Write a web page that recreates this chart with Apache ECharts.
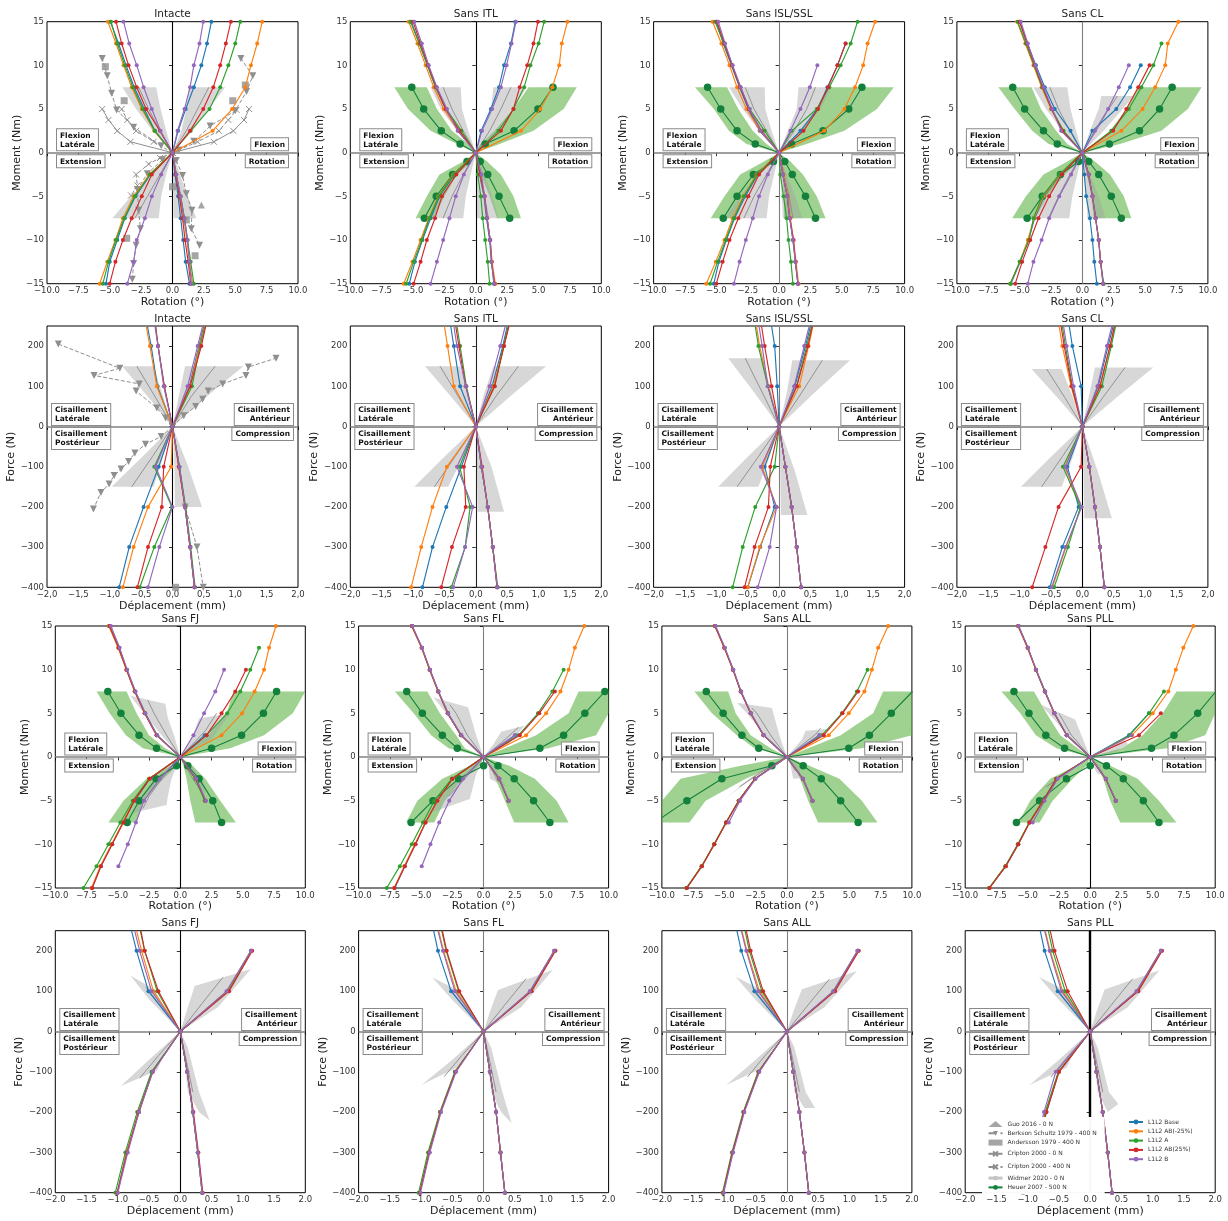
<!DOCTYPE html>
<html>
<head>
<meta charset="utf-8">
<script src="https://cdn.jsdelivr.net/npm/echarts@6/dist/echarts.min.js"></script>
<style>
  html, body { margin: 0; padding: 0; background: #fff; }
  #chart { width: 1228px; height: 1221px; }
</style>
</head>
<body>
<div id="chart"></div>
<script>
// ---- levels (y values) shared by the curves ----
const MOM_UP = [0, 2.5, 5, 7.5, 10, 12.5, 15];
const MOM_DN = [0, -2.5, -5, -7.5, -10, -12.5, -15];
const F_UP = [0, 100, 200, 250];
const F_DN = [0, -100, -200, -300, -400];
const H_UP = [0, 1, 2.5, 5, 7.5];
const H_DN = [0, -1, -2.5, -5, -7.5];

const MODEL_NAMES = ["L1L2 Base", "L1L2 AB(-25%)", "L1L2 A", "L1L2 AB(25%)", "L1L2 B"];
const MODEL_COLORS = ["#1f77b4", "#ff7f0e", "#2ca02c", "#d62728", "#9467bd"];

const titles = ["Intacte", "Sans ITL", "Sans ISL/SSL", "Sans CL",
                "Intacte", "Sans ITL", "Sans ISL/SSL", "Sans CL",
                "Sans FJ", "Sans FL", "Sans ALL", "Sans PLL",
                "Sans FJ", "Sans FL", "Sans ALL", "Sans PLL"];

// ---- model curves: [latérale, flexion/antérieur, extension/postérieur, rotation/compression] x 5 models ----
const mIntacte = [
  [[0,-1.4,-2.25,-3.05,-3.7,-4.3,-4.95],[0,-1.45,-2.45,-3.25,-3.9,-4.5,-5.15],[0,-1.42,-2.37,-3.15,-3.8,-4.4,-4.9],[0,-1.0,-2.1,-2.85,-3.5,-4.05,-4.5],[0,-0.95,-1.65,-2.3,-2.85,-3.45,-3.9]],
  [[0,0.45,1.05,1.7,2.3,2.75,3.1],[0,3.2,4.75,5.8,6.25,6.75,7.15],[0,1.45,2.95,3.8,4.45,5.0,5.4],[0,1.4,2.45,3.25,3.8,4.25,4.65],[0,0.4,0.95,1.4,1.7,2.15,2.45]],
  [[0,-1.75,-2.95,-3.8,-4.4,-5.0,-5.3],[0,-1.85,-3.1,-3.95,-4.55,-5.2,-5.8],[0,-1.8,-3.0,-3.85,-4.5,-5.1,-5.55],[0,-1.65,-2.45,-3.25,-3.95,-4.55,-5.0],[0,-0.9,-1.65,-2.2,-2.85,-3.1,-3.6]],
  [[0,0.2,0.45,0.65,0.85,1.05,1.35],[0,0.3,0.6,0.9,1.15,1.35,1.6],[0,0.3,0.65,0.95,1.2,1.45,1.7],[0,0.25,0.55,0.8,1.0,1.25,1.45],[0,0.3,0.65,0.95,1.2,1.35,1.5]]
];
const mITL = [
  [[0,-1.35,-2.4,-3.2,-3.85,-4.5,-5.15],[0,-1.4,-2.55,-3.35,-4.0,-4.65,-5.35],[0,-1.15,-2.35,-3.2,-3.85,-4.5,-5.2],[0,-1.3,-2.4,-3.15,-3.8,-4.4,-5.0],[0,-1.45,-2.3,-3.1,-3.75,-4.3,-4.9]],
  [[0,0.42,1.2,1.85,2.25,2.8,3.15],[0,3.6,5.15,6.1,6.65,6.85,7.3],[0,1.8,3.0,3.85,4.35,5.0,5.45],[0,2.0,3.0,3.5,4.1,4.6,4.95],[0,0.5,1.3,2.0,2.45,2.85,3.2]],
  [[0,-1.7,-2.9,-3.6,-4.25,-4.85,-5.3],[0,-1.8,-3.0,-3.75,-4.4,-5.05,-5.75],[0,-1.75,-2.95,-3.7,-4.3,-4.95,-5.55],[0,-1.55,-2.7,-3.25,-3.9,-4.4,-4.95],[0,-0.95,-1.6,-2.1,-2.6,-3.1,-3.6]],
  [[0,0.3,0.65,0.85,1.1,1.25,1.45],[0,0.35,0.7,0.9,1.15,1.3,1.55],[0,0.15,0.4,0.55,0.75,0.95,1.1],[0,0.35,0.7,0.9,1.15,1.25,1.5],[0,0.45,0.7,0.9,1.15,1.25,1.45]]
];
const mISL = [
  [[0,-1.55,-2.45,-3.15,-3.8,-4.45,-5.0],[0,-1.5,-2.6,-3.35,-3.95,-4.6,-5.3],[0,-1.15,-2.35,-3.1,-3.75,-4.4,-5.1],[0,-1.4,-2.4,-3.1,-3.75,-4.35,-4.95],[0,-1.45,-2.35,-3.05,-3.7,-4.3,-4.85]],
  [[0,1.7,3.05,3.85,4.65,5.3],[0,3.6,5.2,6.05,6.7,7.05,7.65],[0,1.0,3.0,4.0,4.9,5.7,6.25],[0,1.95,3.1,3.9,4.65,5.3],[0,0.9,1.7,2.45,3.05]],
  [[0,-1.7,-2.7,-3.55,-4.2,-4.8,-5.2],[0,-1.8,-2.85,-3.7,-4.35,-5.05,-5.8],[0,-1.75,-2.8,-3.6,-4.25,-4.9,-5.5],[0,-1.6,-2.45,-3.25,-3.95,-4.5,-5.0],[0,-0.9,-1.6,-2.1,-2.65,-3.15,-3.6]],
  [[0,0.3,0.65,0.85,1.1,1.3,1.5],[0,0.35,0.7,0.9,1.15,1.35,1.55],[0,0.1,0.35,0.6,0.75,0.95,1.1],[0,0.3,0.65,0.85,1.15,1.3,1.5],[0,0.3,0.65,0.85,1.1,1.3,1.5]]
];
const mCL = [
  [[0,-0.95,-2.2,-3.0,-3.7,-4.4,-5.0],[0,-1.6,-2.5,-3.25,-3.9,-4.55,-5.2],[0,-1.5,-2.45,-3.2,-3.85,-4.5,-5.15],[0,-1.6,-2.45,-3.15,-3.8,-4.4,-5.0],[0,-1.7,-2.4,-3.1,-3.75,-4.35,-4.9]],
  [[0,0.8,2.7,3.8,4.65],[0,3.1,4.8,5.8,6.6,6.8,7.65],[0,2.3,3.7,4.7,5.65,6.3],[0,2.45,3.5,4.45,5.35],[0,1.0,2.05,2.9,3.7]],
  [[0,-1.75,-3.05,-3.8,-4.3,-4.95,-5.7],[0,-1.8,-3.1,-3.85,-4.35,-5.0,-5.75],[0,-1.85,-3.2,-3.9,-4.25,-5.0,-5.75],[0,-1.65,-2.65,-3.5,-4.15,-4.8,-5.35],[0,-0.9,-1.85,-2.65,-3.25,-3.9,-4.35]],
  [[0,0.15,0.3,0.6,0.8,0.95,1.15],[0,0.5,0.8,1.05,1.3,1.45,1.65],[0,0.5,0.8,1.05,1.3,1.45,1.7],[0,0.5,0.8,1.05,1.3,1.45,1.65],[0,0.5,0.8,1.05,1.3,1.45,1.65]]
];
const fIntacte = [
  [[0,-0.24,-0.34,-0.4],[0,-0.25,-0.36,-0.42],[0,-0.13,-0.23,-0.27],[0,-0.13,-0.23,-0.27],[0,-0.14,-0.23,-0.28]],
  [[0,0.27,0.42,0.5],[0,0.28,0.43,0.51],[0,0.31,0.44,0.52],[0,0.28,0.46,0.53],[0,0.24,0.4,0.48]],
  [[0,-0.22,-0.46,-0.69,-0.85],[0,-0.02,-0.39,-0.62,-0.79],[0,-0.29,-0.01,-0.29,-0.52],[0,-0.14,-0.17,-0.39,-0.56],[0,-0.27,0.0,-0.21,-0.39]],
  [[0,0.11,0.2,0.28,0.35],[0,0.1,0.2,0.28,0.35],[0,0.11,0.21,0.29,0.36],[0,0.1,0.2,0.28,0.35],[0,0.11,0.2,0.28,0.35]]
];
const fITL = [
  [[0,-0.25,-0.35,-0.4],[0,-0.35,-0.45,-0.5],[0,-0.15,-0.25,-0.3],[0,-0.16,-0.27,-0.32],[0,-0.16,-0.3,-0.35]],
  [[0,0.26,0.43,0.5],[0,0.28,0.45,0.52],[0,0.3,0.44,0.52],[0,0.3,0.45,0.53],[0,0.22,0.39,0.47]],
  [[0,-0.23,-0.47,-0.69,-0.85],[0,-0.46,-0.69,-0.87,-1.03],[0,-0.26,-0.09,-0.17,-0.39],[0,-0.19,-0.16,-0.38,-0.55],[0,-0.3,-0.05,-0.17,-0.36]],
  [[0,0.09,0.19,0.27,0.34],[0,0.09,0.19,0.27,0.34],[0,0.09,0.19,0.27,0.35],[0,0.1,0.19,0.27,0.34],[0,0.09,0.19,0.27,0.34]]
];
const fISL = [
  [[0,-0.03,-0.07,-0.12],[0,-0.17,-0.31,-0.36],[0,-0.18,-0.33,-0.38],[0,-0.12,-0.23,-0.28],[0,-0.18,-0.27,-0.32]],
  [[0,0.25,0.42,0.5],[0,0.32,0.47,0.54],[0,0.28,0.44,0.52],[0,0.28,0.46,0.53],[0,0.24,0.4,0.48]],
  [[0,-0.23,-0.07,-0.3,-0.5],[0,-0.27,-0.04,-0.31,-0.5],[0,-0.07,-0.38,-0.58,-0.74],[0,-0.14,-0.17,-0.39,-0.55],[0,-0.29,-0.04,-0.15,-0.34]],
  [[0,0.1,0.2,0.28,0.35],[0,0.1,0.2,0.28,0.35],[0,0.1,0.2,0.28,0.35],[0,0.1,0.2,0.28,0.35],[0,0.1,0.2,0.28,0.35]]
];
const fCL = [
  [[0,-0.02,-0.16,-0.21],[0,-0.18,-0.32,-0.37],[0,-0.16,-0.27,-0.32],[0,-0.17,-0.29,-0.34],[0,-0.14,-0.25,-0.3]],
  [[0,0.25,0.41,0.49],[0,0.28,0.44,0.52],[0,0.31,0.46,0.53],[0,0.28,0.44,0.51],[0,0.24,0.39,0.47]],
  [[0,-0.24,-0.06,-0.32,-0.52],[0,-0.28,-0.02,-0.26,-0.48],[0,-0.31,-0.03,-0.23,-0.45],[0,-0.02,-0.38,-0.59,-0.8],[0,-0.27,-0.01,-0.27,-0.49]],
  [[0,0.11,0.2,0.28,0.35],[0,0.11,0.2,0.28,0.35],[0,0.11,0.2,0.28,0.35],[0,0.11,0.2,0.28,0.35],[0,0.11,0.2,0.28,0.35]]
];
const mFJ = [
  [[0,-1.9,-2.85,-3.65,-4.3,-4.95,-5.7],[0,-1.9,-2.85,-3.65,-4.32,-4.97,-5.72],[0,-1.85,-2.8,-3.6,-4.28,-4.9,-5.65],[0,-1.9,-2.85,-3.62,-4.3,-4.93,-5.66],[0,-1.85,-2.8,-3.58,-4.25,-4.85,-5.55]],
  [[0,1.95],[0,3.3,4.95,5.95,6.7,7.1,7.65],[0,2.1,3.75,4.8,5.6,6.3],[0,2.1,3.3,4.4,5.25],[0,1.05,1.9,2.8,3.5]],
  [[0,-2.45,-3.65,-4.6,-5.45,-6.35,-7.05],[0,-2.5,-3.7,-4.6,-5.5,-6.4,-7.1],[0,-2.5,-3.8,-4.8,-5.75,-6.7,-7.75],[0,-2.45,-3.7,-4.55,-5.45,-6.35,-7.05],[0,-1.65,-2.9,-3.55,-4.2,-4.95]],
  [[0,1.25,2.0],[0,1.25,2.0],[0,1.2,1.95],[0,1.25,2.02],[0,1.27,2.05]]
];
const mFL = [
  [[0,-1.82,-2.87,-3.63,-4.32,-4.95,-5.74],[0,-1.82,-2.88,-3.65,-4.33,-4.97,-5.76],[0,-1.8,-2.85,-3.62,-4.3,-4.93,-5.72],[0,-1.8,-2.86,-3.62,-4.3,-4.94,-5.73],[0,-1.78,-2.84,-3.6,-4.28,-4.92,-5.7]],
  [[0,2.55],[0,3.4,5.0,6.15,6.8,7.3,8.05],[0,2.8,4.35,5.5,6.4],[0,2.9,4.45,5.7],[0,2.5]],
  [[0,-2.5,-3.7,-4.65,-5.45,-6.3,-7.1],[0,-2.5,-3.7,-4.65,-5.5,-6.35,-7.15],[0,-2.55,-3.95,-4.85,-5.75,-6.7,-7.75],[0,-2.5,-3.7,-4.65,-5.45,-6.3,-7.15],[0,-1.65,-2.75,-3.55,-4.25,-4.95]],
  [[0,1.25,2.0],[0,1.25,2.0],[0,1.24,1.98],[0,1.25,2.0],[0,1.27,2.02]]
];
const mALL = [
  [[0,-1.88,-2.9,-3.7,-4.3,-5.0,-5.75],[0,-1.88,-2.9,-3.7,-4.32,-5.02,-5.77],[0,-1.86,-2.88,-3.68,-4.3,-4.98,-5.73],[0,-1.87,-2.9,-3.69,-4.31,-5.0,-5.75],[0,-1.85,-2.87,-3.66,-4.28,-4.96,-5.7]],
  [[0,2.6],[0,3.35,4.95,6.2,6.8,7.3,8.1],[0,2.8,4.4,5.6,6.45],[0,2.95,4.45,5.7],[0,2.6]],
  [[0,-2.55,-3.85,-4.85,-5.8,-6.8,-8.0],[0,-2.55,-3.85,-4.87,-5.82,-6.82,-8.02],[0,-2.57,-3.87,-4.88,-5.83,-6.83,-8.05],[0,-2.55,-3.84,-4.86,-5.8,-6.8,-8.0],[0,-2.5,-3.75,-4.65]],
  [[0,1.28,2.05],[0,1.28,2.05],[0,1.27,2.03],[0,1.28,2.05],[0,1.29,2.06]]
];
const mPLL = [
  [[0,-1.89,-2.88,-3.63,-4.35,-5.0,-5.76],[0,-1.89,-2.88,-3.64,-4.36,-5.02,-5.78],[0,-1.87,-2.86,-3.62,-4.33,-4.98,-5.74],[0,-1.88,-2.87,-3.62,-4.34,-5.0,-5.75],[0,-1.86,-2.85,-3.6,-4.32,-4.97,-5.72]],
  [[0,3.1,4.7],[0,3.35,5.0,6.25,6.85,7.45,8.25],[0,3.15,4.7,5.9],[0,3.9,5.65],[0,3.3]],
  [[0,-2.7,-3.75,-4.85,-5.75,-6.75,-8.05],[0,-2.7,-3.76,-4.86,-5.77,-6.77,-8.07],[0,-2.72,-3.78,-4.88,-5.8,-6.8,-8.1],[0,-2.7,-3.75,-4.85,-5.75,-6.75,-8.05],[0,-2.6,-3.65,-4.6]],
  [[0,1.25,2.05],[0,1.25,2.05],[0,1.24,2.03],[0,1.25,2.05],[0,1.26,2.06]]
];
const fFJ = [
  [[0,-0.51,-0.7,-0.78],[0,-0.43,-0.62,-0.7],[0,-0.37,-0.57,-0.64],[0,-0.35,-0.57,-0.63],[0,-0.46,-0.65,-0.73]],
  [[0,0.76,1.13],[0,0.75,1.13],[0,0.77,1.14],[0,0.78,1.15],[0,0.74,1.13]],
  [[0,-0.45,-0.66,-0.86,-1.01],[0,-0.45,-0.66,-0.86,-1.0],[0,-0.46,-0.69,-0.88,-1.04],[0,-0.44,-0.67,-0.85,-1.01],[0,-0.44,-0.66,-0.84,-1.0]],
  [[0,0.11,0.2,0.28,0.35],[0,0.11,0.2,0.28,0.35],[0,0.11,0.2,0.28,0.35],[0,0.11,0.21,0.29,0.36],[0,0.11,0.2,0.28,0.35]]
];
const fFL = [
  [[0,-0.52,-0.73,-0.8],[0,-0.44,-0.64,-0.72],[0,-0.4,-0.6,-0.67],[0,-0.39,-0.59,-0.66],[0,-0.46,-0.65,-0.73]],
  [[0,0.75,1.13],[0,0.75,1.13],[0,0.76,1.14],[0,0.77,1.15],[0,0.74,1.13]],
  [[0,-0.45,-0.69,-0.87,-1.02],[0,-0.45,-0.69,-0.87,-1.02],[0,-0.46,-0.7,-0.89,-1.04],[0,-0.45,-0.69,-0.87,-1.02],[0,-0.44,-0.68,-0.86,-1.01]],
  [[0,0.1,0.2,0.27,0.34],[0,0.1,0.2,0.27,0.34],[0,0.1,0.2,0.27,0.34],[0,0.1,0.2,0.27,0.34],[0,0.1,0.2,0.27,0.34]]
];
const fALL = [
  [[0,-0.52,-0.73,-0.8],[0,-0.44,-0.64,-0.72],[0,-0.4,-0.6,-0.67],[0,-0.38,-0.58,-0.65],[0,-0.46,-0.65,-0.73]],
  [[0,0.75,1.13],[0,0.75,1.13],[0,0.76,1.14],[0,0.77,1.15],[0,0.74,1.13]],
  [[0,-0.45,-0.69,-0.87,-1.02],[0,-0.45,-0.69,-0.87,-1.02],[0,-0.46,-0.7,-0.88,-1.03],[0,-0.45,-0.69,-0.87,-1.02],[0,-0.44,-0.68,-0.86,-1.01]],
  [[0,0.1,0.2,0.28,0.35],[0,0.1,0.2,0.28,0.35],[0,0.1,0.2,0.28,0.35],[0,0.1,0.2,0.28,0.35],[0,0.1,0.2,0.28,0.35]]
];
const fPLL = [
  [[0,-0.52,-0.73,-0.8],[0,-0.44,-0.64,-0.72],[0,-0.4,-0.6,-0.67],[0,-0.36,-0.57,-0.64],[0,-0.46,-0.65,-0.73]],
  [[0,0.75,1.13],[0,0.75,1.13],[0,0.76,1.14],[0,0.77,1.15],[0,0.74,1.13]],
  [[0,-0.5,-0.7,-0.88,-1.07],[0,-0.5,-0.71,-0.88,-1.07],[0,-0.51,-0.72,-0.89,-1.08],[0,-0.5,-0.7,-0.88,-1.07],[0,-0.55,-0.74,-0.9,-1.08]],
  [[0,0.1,0.2,0.28,0.35],[0,0.1,0.2,0.28,0.35],[0,0.1,0.2,0.28,0.35],[0,0.1,0.2,0.28,0.35],[0,0.1,0.2,0.28,0.35]]
];

// ---- Widmer 2020 corridors: per direction [edge A, edge B, mean], points [x, y] ----
const wIntacte = [
  [[[0,0],[-1.6,2.5],[-2.9,5],[-4.0,7.5]], [[0,0],[-0.5,2.5],[-0.95,5],[-1.3,7.5]], [[0,0],[-1.0,2.5],[-1.9,5],[-2.7,7.5]]],
  [[[0,0],[0.7,2.5],[1.1,5],[1.3,7.5]], [[0,0],[1.6,2.5],[2.9,5],[4.2,7.5]], [[0,0],[1.1,2.5],[2.0,5],[2.9,7.5]]],
  [[[0,0],[-1.6,-2.5],[-3.3,-5],[-4.8,-7.5]], [[0,0],[-0.5,-2.5],[-0.9,-5],[-1.1,-7.5]], [[0,0],[-1.0,-2.5],[-2.0,-5],[-3.0,-7.5]]],
  [[[0,0],[0.05,-2.5],[0.08,-5],[0.1,-7.5]], [[0,0],[0.6,-2.5],[1.2,-5],[1.9,-7.5]], [[0,0],[0.3,-2.5],[0.6,-5],[0.95,-7.5]]]
];
const wITL = [
  [[[0,0],[-1.5,2.5],[-2.8,5],[-3.6,7.5]], [[0,0],[-0.6,2.5],[-1.1,5],[-1.2,7.5]], [[0,0],[-1.0,2.5],[-1.9,5],[-2.6,7.5]]],
  [[[0,0],[0.6,2.5],[1.2,5],[1.4,7.5]], [[0,0],[1.8,2.5],[3.0,5],[4.05,7.5]], [[0,0],[1.1,2.5],[2.0,5],[2.8,7.5]]],
  [[[0,0],[-1.6,-2.5],[-2.9,-5],[-3.8,-7.5]], [[0,0],[-0.4,-2.5],[-0.8,-5],[-1.0,-7.5]], [[0,0],[-1.0,-2.5],[-1.9,-5],[-2.6,-7.5]]],
  [[[0,0],[0.05,-2.5],[0.1,-5],[0.1,-7.5]], [[0,0],[0.7,-2.5],[1.3,-5],[1.8,-7.5]], [[0,0],[0.35,-2.5],[0.7,-5],[1.0,-7.5]]]
];
const wISL = [
  [[[0,0],[-1.6,2.5],[-2.9,5],[-4.0,7.5]], [[0,0],[-0.6,2.5],[-1.1,5],[-1.15,7.5]], [[0,0],[-1.0,2.5],[-2.0,5],[-2.7,7.5]]],
  [[[0,0],[0.7,2.5],[1.4,5],[1.55,7.5]], [[0,0],[1.9,2.5],[3.3,5],[4.2,7.5]], [[0,0],[1.2,2.5],[2.2,5],[2.9,7.5]]],
  [[[0,0],[-1.7,-2.5],[-3.1,-5],[-4.35,-7.5]], [[0,0],[-0.4,-2.5],[-0.8,-5],[-1.0,-7.5]], [[0,0],[-1.0,-2.5],[-2.0,-5],[-2.8,-7.5]]],
  [[[0,0],[0.1,-2.5],[0.2,-5],[0.3,-7.5]], [[0,0],[0.6,-2.5],[1.3,-5],[1.85,-7.5]], [[0,0],[0.4,-2.5],[0.8,-5],[1.1,-7.5]]]
];
const wCL = [
  [[[0,0],[-1.6,2.5],[-2.9,5],[-3.9,7.5]], [[0,0],[-0.5,2.5],[-0.95,5],[-1.2,7.5]], [[0,0],[-1.0,2.5],[-1.9,5],[-2.6,7.5]]],
  [[[0,0],[0.6,2.5],[1.3,5],[1.5,6.5]], [[0,0],[1.7,2.5],[3.2,5],[4.1,6.5]], [[0,0],[1.1,2.5],[2.1,5],[2.8,6.5]]],
  [[[0,0],[-1.6,-2.5],[-3.0,-5],[-4.05,-7.5]], [[0,0],[-0.4,-2.5],[-0.8,-5],[-1.05,-7.5]], [[0,0],[-1.0,-2.5],[-1.9,-5],[-2.7,-7.5]]],
  [[[0,0],[0.15,-2.5],[0.3,-5],[0.4,-7.5]], [[0,0],[0.6,-2.5],[1.3,-5],[1.85,-7.5]], [[0,0],[0.4,-2.5],[0.8,-5],[1.1,-7.5]]]
];
const wfIntacte = [
  [[[0,0],[-0.4,75],[-0.8,150]], [[0,0],[-0.15,75],[-0.3,150]], [[0,0],[-0.28,75],[-0.57,150]]],
  [[[0,0],[0.1,75],[0.2,150]], [[0,0],[0.55,75],[1.13,150]], [[0,0],[0.3,75],[0.68,150]]],
  [[[0,0],[-0.48,-75],[-0.97,-150]], [[0,0],[-0.15,-75],[-0.3,-150]], [[0,0],[-0.32,-75],[-0.65,-150]]],
  [[[0,0],[0.02,-40],[0.03,-100],[0.04,-200]], [[0,0],[0.1,-40],[0.25,-100],[0.47,-200]], []]
];
const wfITL = [
  [[[0,0],[-0.4,75],[-0.81,150]], [[0,0],[-0.1,75],[-0.25,150]], [[0,0],[-0.28,75],[-0.57,150]]],
  [[[0,0],[0.12,75],[0.28,150]], [[0,0],[0.55,75],[1.12,150]], [[0,0],[0.32,75],[0.68,150]]],
  [[[0,0],[-0.5,-75],[-0.98,-150]], [[0,0],[-0.2,-75],[-0.44,-150]], [[0,0],[-0.33,-75],[-0.66,-150]]],
  [[[0,0],[0.02,-100],[0.03,-212]], [[0,0],[0.25,-100],[0.45,-212]], []]
];
const wfISL = [
  [[[0,0],[-0.4,85],[-0.81,170]], [[0,0],[-0.12,85],[-0.26,170]], [[0,0],[-0.27,85],[-0.54,170]]],
  [[[0,0],[0.12,82],[0.21,165]], [[0,0],[0.55,82],[1.13,165]], [[0,0],[0.35,82],[0.69,165]]],
  [[[0,0],[-0.5,-75],[-0.97,-150]], [[0,0],[-0.15,-75],[-0.33,-150]], [[0,0],[-0.33,-75],[-0.67,-150]]],
  [[[0,0],[0.02,-110],[0.03,-220]], [[0,0],[0.25,-110],[0.45,-220]], []]
];
const wfCL = [
  [[[0,0],[-0.4,72],[-0.81,143]], [[0,0],[-0.15,72],[-0.33,143]], [[0,0],[-0.28,72],[-0.57,143]]],
  [[[0,0],[0.1,73],[0.2,147]], [[0,0],[0.55,73],[1.13,147]], [[0,0],[0.33,73],[0.68,147]]],
  [[[0,0],[-0.5,-75],[-0.98,-150]], [[0,0],[-0.15,-75],[-0.33,-150]], [[0,0],[-0.32,-75],[-0.65,-150]]],
  [[[0,0],[0.02,-114],[0.03,-228]], [[0,0],[0.25,-114],[0.47,-228]], []]
];
const wFJ = [
  [[[0,0],[-1.5,2.5],[-2.9,5],[-4.0,7.0]], [[0,0],[-0.5,2.5],[-1.0,4.5],[-1.2,6.1]], [[0,0],[-1.1,2.5],[-2.1,5],[-2.6,6.5]]],
  [[[0,0],[1.0,2.5],[1.5,4.4]], [[0,0],[2.5,2.0],[4.0,5.0]], [[0,0],[2.0,3.0],[2.9,5.0]]],
  [[[0,0],[-2.0,-2.5],[-3.0,-4.5],[-3.8,-6.4]], [[0,0],[-0.7,-2.5],[-1.0,-4.5],[-1.1,-5.5]], [[0,0],[-1.5,-2.5],[-2.5,-4.5],[-3.0,-5.9]]],
  [[[0,0],[0.4,-1.0],[1.4,-3.0],[2.1,-4.7]], [[0,0],[0.9,-1.0],[1.9,-3.0],[2.0,-4.6]], [[0,0],[1.0,-2.5],[1.8,-4.2]]]
];
const wFL = [
  [[[0,0],[-1.7,2.5],[-3.0,5],[-4.0,6.8]], [[0,0],[-0.6,2.5],[-1.0,4.5],[-1.25,5.7]], [[0,0],[-1.3,2.5],[-2.2,5],[-2.7,6.0]]],
  [[[0,0],[0.8,1.5],[1.4,2.9]], [[0,0],[2.0,1.5],[3.3,3.6]], [[0,0],[1.4,1.6],[2.8,3.4]]],
  [[[0,0],[-2.0,-2.5],[-3.5,-4.5],[-4.3,-6.4]], [[0,0],[-0.6,-2.0],[-1.1,-4.8]], [[0,0],[-1.5,-2.5],[-2.8,-4.5]]],
  [[[0,0],[0.4,-1.0],[0.5,-2.5]], [[0,0],[1.0,-1.5],[1.75,-3.4]], [[0,0],[0.9,-2.0]]]
];
const wALL = [
  [[[0,0],[-1.8,2.5],[-3.2,5],[-4.0,6.2]], [[0,0],[-0.6,2.5],[-1.2,5.6]], [[0,0],[-1.3,2.5],[-2.4,5.0],[-2.8,5.6]]],
  [[[0,0],[1.2,2.0],[1.5,3.0]], [[0,0],[2.5,2.0],[3.2,3.2]], [[0,0],[2.3,2.6],[2.7,3.3]]],
  [[[0,0],[-2.5,-2.2],[-4.8,-4.6]], [[0,0],[-1.6,-1.0],[-3.0,-2.5]], [[0,0],[-2.0,-1.7],[-3.8,-3.4]]],
  [[[0,0],[0.3,-1.0],[0.5,-2.5]], [[0,0],[0.9,-1.0],[1.2,-2.4]], [[0,0],[0.7,-1.6]]]
];
const wPLL = [
  [[[0,0],[-1.8,2.5],[-3.0,4.5],[-4.0,6.0]], [[0,0],[-0.7,2.5],[-1.2,4.3]], [[0,0],[-1.5,2.5],[-2.5,5.0]]],
  [[[0,0],[1.0,0.6],[2.7,2.1]], [[0,0],[2.0,0.6],[3.0,1.5]], [[0,0],[2.5,1.6]]],
  [[[0,0],[-2.5,-2.5],[-4.7,-4.6]], [[0,0],[-1.5,-1.2],[-2.7,-2.4]], [[0,0],[-2.0,-1.9],[-3.5,-3.4]]],
  [[[0,0],[0.4,-1.5],[0.6,-2.0]], [[0,0],[0.8,-1.0],[1.1,-1.9]], [[0,0],[0.8,-1.7]]]
];
const wfFJ = [
  [[[0,0],[-0.5,80],[-0.8,139]], [[0,0],[-0.25,60],[-0.42,105]], [[0,0],[-0.55,110]]],
  [[[0,0],[0.1,50],[0.23,113]], [[0,0],[0.6,60],[1.13,155]], [[0,0],[0.35,70],[0.68,134]]],
  [[[0,0],[-0.5,-70],[-0.95,-135]], [[0,0],[-0.25,-50],[-0.37,-97]], [[0,0],[-0.35,-60],[-0.65,-116]]],
  [[[0,0],[0.05,-50],[0.12,-150],[0.3,-200]], [[0,0],[0.12,-40],[0.3,-150],[0.47,-221]], [[0,0],[0.2,-150]]]
];
const wfFL = [
  [[[0,0],[-0.5,78],[-0.82,134]], [[0,0],[-0.25,60],[-0.42,103]], [[0,0],[-0.55,108]]],
  [[[0,0],[0.1,48],[0.23,103]], [[0,0],[0.6,60],[1.11,153]], [[0,0],[0.35,68],[0.68,131]]],
  [[[0,0],[-0.5,-70],[-0.99,-132]], [[0,0],[-0.25,-50],[-0.39,-87]], [[0,0],[-0.35,-60],[-0.63,-112]]],
  [[[0,0],[0.05,-50],[0.12,-150],[0.28,-200]], [[0,0],[0.12,-40],[0.3,-150],[0.45,-228]], [[0,0],[0.2,-150]]]
];
const wfALL = [
  [[[0,0],[-0.5,78],[-0.82,136]], [[0,0],[-0.25,60],[-0.42,104]], [[0,0],[-0.55,109]]],
  [[[0,0],[0.1,48],[0.24,105]], [[0,0],[0.6,60],[1.12,150]], [[0,0],[0.35,68],[0.68,130]]],
  [[[0,0],[-0.5,-70],[-0.97,-133]], [[0,0],[-0.25,-50],[-0.38,-90]], [[0,0],[-0.35,-60],[-0.63,-113]]],
  [[[0,0],[0.05,-50],[0.12,-150],[0.28,-190]], [[0,0],[0.12,-40],[0.3,-150],[0.45,-190]], [[0,0],[0.2,-150]]]
];
const wfPLL = [
  [[[0,0],[-0.5,78],[-0.82,135]], [[0,0],[-0.25,60],[-0.42,104]], [[0,0],[-0.55,109]]],
  [[[0,0],[0.1,48],[0.23,104]], [[0,0],[0.6,60],[1.11,152]], [[0,0],[0.35,68],[0.68,131]]],
  [[[0,0],[-0.5,-70],[-0.97,-133]], [[0,0],[-0.25,-50],[-0.38,-90]], [[0,0],[-0.35,-60],[-0.63,-113]]],
  [[[0,0],[0.05,-50],[0.12,-150],[0.28,-200]], [[0,0],[0.12,-40],[0.3,-150],[0.45,-180]], [[0,0],[0.2,-150]]]
];

// ---- Heuer 2007 (levels H_UP / H_DN): per direction [mean, low edge, high edge] ----
const hITL = [
  [[0,-1.25,-2.75,-4.15,-5.1],[0,-1.5,-3.6,-5.4,-6.5],[0,-0.6,-1.9,-3.1,-3.9]],
  [[0,0.75,3.05,4.95,6.15],[0,0.4,1.5,3.0,4.2],[0,1.9,4.6,7.0,8.05]],
  [[0,-0.7,-1.85,-3.15,-4.1],[0,-1.0,-2.9,-3.9,-4.8],[0,-0.3,-1.5,-2.5,-3.3]],
  [[0,0.35,0.95,1.85,2.7],[0,0.1,0.4,1.1,1.7],[0,0.9,2.0,3.0,3.6]]
];
const hISL = [
  [[0,-1.9,-3.35,-4.65,-5.7],[0,-2.6,-4.0,-5.2,-6.7],[0,-1.0,-2.1,-3.25,-4.15]],
  [[0,1.0,3.5,5.55,6.6],[0,0.6,1.7,3.0,4.1],[0,2.2,5.2,7.8,9.15]],
  [[0,-0.45,-2.05,-3.35,-4.45],[0,-1.2,-3.1,-4.35,-5.45],[0,-0.4,-1.65,-2.9,-3.7]],
  [[0,0.45,1.05,2.1,2.9],[0,0.1,0.25,0.4,0.4],[0,0.9,1.9,3.0,3.7]]
];
const hCL = [
  [[0,-2.0,-3.1,-4.6,-5.55],[0,-2.7,-4.0,-5.4,-6.7],[0,-1.2,-2.1,-3.3,-4.05]],
  [[0,2.15,4.55,6.15,7.15],[0,0.9,2.2,3.5,4.4],[0,3.0,6.3,8.4,9.5]],
  [[0,-0.3,-1.75,-3.2,-4.4],[0,-1.2,-3.1,-4.5,-5.6],[0,-0.3,-1.4,-2.8,-3.75]],
  [[0,0.5,1.3,2.3,3.1],[0,0.15,0.4,0.7,0.9],[0,1.0,2.2,3.3,3.9]]
];
const hFJ = [
  [[0,-1.9,-3.3,-4.75,-5.8],[0,-3.0,-4.35,-5.65,-6.7],[0,-1.2,-2.5,-3.5,-4.3]],
  [[0,2.5,4.9,6.65,7.7],[0,0.8,2.25,3.7,4.25],[0,4.0,6.7,9.0,10.5]],
  [[0,-0.3,-1.95,-3.3,-4.25],[0,-0.8,-2.7,-4.55,-5.75],[0,-0.25,-1.35,-2.95,-3.5]],
  [[0,0.6,1.5,2.6,3.3],[0,0.25,0.5,0.8,1.2],[0,1.0,2.0,3.2,4.45]]
];
const hFL = [
  [[0,-2.1,-3.3,-4.9,-6.15],[0,-2.8,-4.2,-5.6,-7.1],[0,-1.5,-2.2,-3.5,-4.5]],
  [[0,4.5,6.4,8.1,9.7],[0,1.7,4.2,6.8,7.6],[0,5.2,9.0,11,12]],
  [[0,0.0,-2.0,-4.05,-5.8],[0,-1.1,-3.3,-5.3,-6.2],[0,-0.3,-1.7,-3.1,-3.95]],
  [[0,1.15,2.45,4.0,5.3],[0,0.5,0.95,1.7,2.45],[0,2.05,4.1,5.85,6.8]]
];
const hALL = [
  [[0,-2.25,-3.6,-5.1,-6.45],[0,-2.6,-4.0,-6.0,-7.4],[0,-1.3,-2.9,-4.1,-4.7]],
  [[0,4.95,6.6,8.35,10.05],[0,1.7,4.3,6.9,7.7],[0,6.0,10,11,12]],
  [[0,-1.2,-5.2,-8.0,-10.6],[0,-3.7,-8.5,-11,-13],[0,-0.9,-3.3,-6.5,-7.8]],
  [[0,1.3,2.75,4.3,5.7],[0,0.6,1.05,1.7,2.5],[0,1.8,4.2,6.0,7.25]]
];
const hPLL = [
  [[0,-2.05,-3.55,-4.9,-6.1],[0,-2.7,-4.35,-5.6,-7.1],[0,-1.0,-2.4,-3.5,-4.5]],
  [[0,4.9,6.7,8.6,10.05],[0,2.5,4.2,5.8,6.9],[0,6.2,9.2,11,12]],
  [[0,0.0,-1.9,-4.05,-5.9],[0,-1.1,-3.2,-4.8,-5.75],[0,-0.3,-1.4,-3.0,-4.05]],
  [[0,1.3,2.65,4.25,5.5],[0,0.5,1.05,1.6,2.4],[0,1.6,3.8,5.5,6.9]]
];

// ---- literature (Intacte panels), points [x, y] ----
const berksonMoment = [
  [[-0.9,0.8],[-3.1,2.9],[-4.45,4.9],[-4.85,6.8],[-5.2,8.8],[-5.6,10.8]],
  [[0.5,0.3],[1.7,1.3],[3.0,3.05],[5.0,4.8],[5.9,7.0],[6.4,8.8],[5.45,10.8]],
  [[-0.8,-0.8],[-2.0,-2.4],[-2.8,-4.2],[-2.7,-6.6],[-2.55,-8.7],[-2.9,-10.6],[-3.1,-12.7],[-3.2,-14.5]],
  [[0.3,-0.9],[0.8,-2.6],[1.1,-4.7],[1.55,-6.6],[1.5,-8.7],[2.15,-10.6]]
];
const anderssonMoment = [[-5.35,9.85],[-3.85,5.95],[5.8,7.75],[4.8,5.95],[0.0,-3.9],[-3.65,-9.8],[1.8,-11.8],[1.1,-7.7]];
const guoMoment = [[2.3,-6.0]];
const cripton0Moment = [
  [[0,0],[-3.35,1.25],[-4.4,2.5],[-5.1,3.75],[-5.6,5.0]],
  [[0,0],[3.3,1.25],[4.85,2.5],[5.7,3.75],[6.1,5.0]]
];
const cripton400Moment = [
  [[0,0],[-1.5,1.25],[-2.9,2.5],[-3.6,3.75],[-4.05,5.0]],
  [[0,0],[2.0,1.25],[3.7,2.5],[4.45,3.75],[5.1,4.9]],
  [[0,0],[-1.0,-0.6],[-1.9,-1.3],[-2.9,-2.5],[-2.8,-3.75],[-3.3,-4.9]]
];
const berksonForce = [
  [[-1.82,205],[-0.84,145],[-1.25,127],[-0.53,106],[-0.58,88],[-0.25,46],[-0.11,21],[0,0]],
  [[0,0],[0.18,27],[0.37,50],[0.48,68],[0.57,88],[0.8,106],[1.17,127],[1.21,148],[1.65,170]],
  [[0,0],[-0.18,-25],[-0.43,-44],[-0.6,-66],[-0.7,-87],[-0.82,-106],[-0.93,-122],[-1.01,-143],[-1.14,-164],[-1.26,-205]],
  [[0,0],[0.2,-200],[0.39,-300],[0.49,-400]]
];
const anderssonForce = [[0.05,-400]];

const modelData = [mIntacte, mITL, mISL, mCL, fIntacte, fITL, fISL, fCL, mFJ, mFL, mALL, mPLL, fFJ, fFL, fALL, fPLL];
const widmerData = [wIntacte, wITL, wISL, wCL, wfIntacte, wfITL, wfISL, wfCL, wFJ, wFL, wALL, wPLL, wfFJ, wfFL, wfALL, wfPLL];
const heuerData = [null, hITL, hISL, hCL, null, null, null, null, hFJ, hFL, hALL, hPLL, null, null, null, null];
const zeroColors = ["#000", "#000", "#7f7f7f", "#7f7f7f", "#000", "#222", "#7f7f7f", "#000",
                    "#000", "#7f7f7f", "#7f7f7f", "#000", "#000", "#7f7f7f", "#7f7f7f", "#000"];

// ---- layout ----
const rowTop = [21.7, 326, 626, 930.7];
const rowH = [262, 261.3, 262, 262];
const colLeft = [[47, 350.3, 653.6, 956.9], [47, 350.3, 653.6, 956.9], [55.3, 358.6, 661.9, 965.2], [55.3, 358.6, 661.9, 965.2]];
const colW = [251, 251, 250, 250];

const FONT = '"DejaVu Sans", sans-serif';
const GRAY_BAND = "rgba(160,160,160,0.42)";
const GREEN_BAND = "rgba(95,180,70,0.6)";
const HEUER_GREEN = "#13803c";
const LIT_GRAY = "#8f8f8f";
const X_SYMBOL = "path://M0,0L10,10M10,0L0,10";

const minus = s => String(s).replace("-", "\u2212");

const grids = [], xAxes = [], yAxes = [], series = [], graphics = [];

function bandSeries(p, pts, color, z) {
  return {
    type: "custom", xAxisIndex: p, yAxisIndex: p, silent: true, z: z, animation: false,
    data: pts,
    renderItem: function (params, api) {
      if (params.dataIndex !== 0) return null;
      const cs = params.coordSys;
      const poly = pts.map(q => {
        const c = api.coord(q);
        return [Math.min(Math.max(c[0], cs.x), cs.x + cs.width), Math.min(Math.max(c[1], cs.y), cs.y + cs.height)];
      });
      return { type: "polygon", shape: { points: poly }, style: { fill: color } };
    }
  };
}

for (let p = 0; p < 16; p++) {
  const r = p >> 2, c = p & 3;
  const isMoment = r === 0 || r === 2;
  const left = colLeft[r][c], top = rowTop[r], w = colW[r], h = rowH[r];
  const yMin = isMoment ? -15 : -400, yMax = isMoment ? 15 : 250;
  grids.push({ left: left, top: top, width: w, height: h, show: true, borderColor: "#000", borderWidth: 1, backgroundColor: "transparent" });

  const tickStyle = { show: true, length: 3.5, lineStyle: { color: "#000", width: 0.8 } };
  xAxes.push({
    gridIndex: p, type: "value",
    min: isMoment ? -10 : -2, max: isMoment ? 10 : 2, interval: isMoment ? 2.5 : 0.5,
    axisLine: { show: false }, axisTick: tickStyle, splitLine: { show: false },
    axisLabel: {
      fontSize: 8.5, color: "#333", margin: 3, fontFamily: FONT,
      formatter: v => { const s = minus(v.toFixed(1)); return r === 1 ? s.replace(".", ",") : s; }
    },
    name: isMoment ? "Rotation (°)" : "Déplacement (mm)",
    nameLocation: "middle", nameGap: 12,
    nameTextStyle: { fontSize: 11, fontFamily: FONT, color: "#222" }
  });
  const yTicks = isMoment ? [-15, -10, -5, 0, 5, 10, 15] : [-400, -300, -200, -100, 0, 100, 200];
  yAxes.push({
    gridIndex: p, type: "value", min: yMin, max: yMax,
    axisLine: { show: false },
    axisTick: Object.assign({ customValues: yTicks }, tickStyle),
    splitLine: { show: false },
    axisLabel: { customValues: yTicks, fontSize: 8.5, color: "#333", margin: 3, fontFamily: FONT, formatter: v => minus(v) },
    name: isMoment ? "Moment (Nm)" : "Force (N)",
    nameLocation: "middle", nameGap: isMoment ? 17 : 22,
    nameTextStyle: { fontSize: 11, fontFamily: FONT, color: "#222" }
  });

  // corridors
  const hd = heuerData[p];
  if (hd) {
    hd.forEach((dir, d) => {
      const lv = d < 2 ? H_UP : H_DN;
      const lo = dir[1].map((x, i) => [x, lv[i]]);
      const hi = dir[2].map((x, i) => [x, lv[i]]).reverse();
      series.push(bandSeries(p, lo.concat(hi), GREEN_BAND, 1));
    });
  }
  widmerData[p].forEach(dir => {
    series.push(bandSeries(p, dir[0].concat(dir[1].slice().reverse()), GRAY_BAND, 1));
    if (dir[2].length) {
      series.push({
        name: "Widmer 2020 - 0 N", type: "line", xAxisIndex: p, yAxisIndex: p, data: dir[2],
        symbol: "none", itemStyle: { color: "#c4c4c4" },
        lineStyle: { color: "#8a8a8a", width: 0.9 }, z: 2, silent: true, animation: false
      });
    }
  });

  // zero lines
  series.push({
    type: "line", xAxisIndex: p, yAxisIndex: p, data: [[0, 0]], symbol: "none", z: 3, silent: true, animation: false,
    markLine: {
      silent: true, symbol: "none", animation: false, label: { show: false }, z: 3,
      data: [
        { xAxis: 0, lineStyle: { color: zeroColors[p], width: p === 15 ? 2.4 : 1.1, type: "solid" } },
        { yAxis: 0, lineStyle: { color: "#808080", width: 1.7, type: "solid" } }
      ]
    }
  });

  // literature on intact panels
  if (p === 0) {
    berksonMoment.forEach(d => series.push({
      name: "Berkson Schultz 1979 - 400 N", type: "line", xAxisIndex: p, yAxisIndex: p, data: d,
      symbol: "triangle", symbolRotate: 180, symbolSize: 7, itemStyle: { color: LIT_GRAY },
      lineStyle: { color: LIT_GRAY, width: 1, type: "dashed" }, z: 4, animation: false
    }));
    cripton0Moment.forEach(d => series.push({
      name: "Cripton 2000 - 0 N", type: "line", xAxisIndex: p, yAxisIndex: p, data: d,
      symbol: X_SYMBOL, symbolSize: 6, itemStyle: { color: "none", borderColor: LIT_GRAY, borderWidth: 1 },
      lineStyle: { color: LIT_GRAY, width: 1 }, z: 4, animation: false
    }));
    cripton400Moment.forEach(d => series.push({
      name: "Cripton 2000 - 400 N", type: "line", xAxisIndex: p, yAxisIndex: p, data: d,
      symbol: X_SYMBOL, symbolSize: 6, itemStyle: { color: "none", borderColor: LIT_GRAY, borderWidth: 1 },
      lineStyle: { color: LIT_GRAY, width: 1, type: "dashed" }, z: 4, animation: false
    }));
    series.push({
      name: "Andersson 1979 - 400 N", type: "scatter", xAxisIndex: p, yAxisIndex: p, data: anderssonMoment,
      symbol: "rect", symbolSize: 7, itemStyle: { color: LIT_GRAY }, z: 4, animation: false
    });
    series.push({
      name: "Guo 2016 - 0 N", type: "scatter", xAxisIndex: p, yAxisIndex: p, data: guoMoment,
      symbol: "triangle", symbolSize: 7, itemStyle: { color: LIT_GRAY }, z: 4, animation: false
    });
  }
  if (p === 4) {
    berksonForce.forEach(d => series.push({
      name: "Berkson Schultz 1979 - 400 N", type: "line", xAxisIndex: p, yAxisIndex: p, data: d,
      symbol: "triangle", symbolRotate: 180, symbolSize: 7, itemStyle: { color: LIT_GRAY },
      lineStyle: { color: LIT_GRAY, width: 1, type: "dashed" }, z: 4, animation: false
    }));
    series.push({
      name: "Andersson 1979 - 400 N", type: "scatter", xAxisIndex: p, yAxisIndex: p, data: anderssonForce,
      symbol: "rect", symbolSize: 7, itemStyle: { color: LIT_GRAY }, z: 4, animation: false
    });
  }

  // Heuer mean curves
  if (hd) {
    hd.forEach((dir, d) => {
      const lv = d < 2 ? H_UP : H_DN;
      series.push({
        name: "Heuer 2007 - 500 N", type: "line", xAxisIndex: p, yAxisIndex: p,
        data: dir[0].map((x, i) => i === 0 ? { value: [x, lv[i]], symbol: "none" } : [x, lv[i]]),
        symbol: "circle", symbolSize: 7.5, itemStyle: { color: HEUER_GREEN },
        lineStyle: { color: HEUER_GREEN, width: 1.1 }, z: 4, animation: false
      });
    });
  }

  // model curves
  const levels = isMoment ? [MOM_UP, MOM_UP, MOM_DN, MOM_DN] : [F_UP, F_UP, F_DN, F_DN];
  modelData[p].forEach((dir, d) => {
    dir.forEach((xs, m) => {
      series.push({
        name: MODEL_NAMES[m], type: "line", xAxisIndex: p, yAxisIndex: p,
        data: xs.map((x, i) => levels[d][i] === 250 ? { value: [x, 250], symbol: "none" } : [x, levels[d][i]]),
        symbol: "circle", symbolSize: 4, showAllSymbol: true,
        itemStyle: { color: MODEL_COLORS[m] }, lineStyle: { color: MODEL_COLORS[m], width: 1.15 },
        z: 5, animation: false
      });
    });
  });

  // title
  graphics.push({
    type: "text", x: left + w / 2, y: top - 1.5, silent: true,
    style: { text: titles[p], font: '10.5px ' + FONT, fill: "#222", textAlign: "center", textVerticalAlign: "bottom" }
  });

  // quadrant labels, placed around the y = 0 line
  const cy = top + h * yMax / (yMax - yMin), right = left + w;
  const inset = isMoment ? 10 : 5, gapUp = isMoment ? 2.5 : 1.5;
  const labels = isMoment
    ? [["Flexion\nLatérale", "left", "bottom"], ["Flexion", "right", "bottom"], ["Extension", "left", "top"], ["Rotation", "right", "top"]]
    : [["Cisaillement\nLatérale", "left", "bottom"], ["Cisaillement\nAntérieur", "right", "bottom"], ["Cisaillement\nPostérieur", "left", "top"], ["Compression", "right", "top"]];
  labels.forEach(([txt, al, va]) => {
    graphics.push({
      type: "text", silent: true, z: 50,
      x: al === "left" ? left + inset : right - inset,
      y: va === "bottom" ? cy - gapUp : cy + gapUp,
      style: {
        text: txt, font: 'bold 7.5px ' + FONT, fill: "#111", textAlign: al, textVerticalAlign: va,
        lineHeight: 9, backgroundColor: "#fff", borderColor: "#8a8a8a", borderWidth: 1, padding: [2, 3, 1, 3]
      }
    });
  });
}

const chart = echarts.init(document.getElementById("chart"), null, { renderer: "canvas" });
chart.setOption({
  animation: false,
  backgroundColor: "#fff",
  textStyle: { fontFamily: FONT },
  grid: grids, xAxis: xAxes, yAxis: yAxes, series: series,
  graphic: { elements: graphics },
  legend: [
    {
      orient: "vertical", left: 982, top: 1117, z: 40, zlevel: 1, selectedMode: false,
      itemWidth: 14, itemHeight: 6, itemGap: 3.3,
      backgroundColor: "rgba(255,255,255,0.97)", padding: [4, 8, 4, 5],
      textStyle: { fontSize: 6, color: "#333", fontFamily: FONT },
      data: [
        { name: "Guo 2016 - 0 N" },
        { name: "Berkson Schultz 1979 - 400 N" },
        { name: "Andersson 1979 - 400 N" },
        { name: "Cripton 2000 - 0 N" },
        { name: "Cripton 2000 - 400 N" },
        { name: "Widmer 2020 - 0 N", itemStyle: { color: "#c4c4c4" }, lineStyle: { color: "#c4c4c4", width: 3 } },
        { name: "Heuer 2007 - 500 N" }
      ]
    },
    {
      orient: "vertical", left: 1124, top: 1116, z: 40, zlevel: 1, selectedMode: false,
      itemWidth: 14, itemHeight: 6, itemGap: 3.3,
      backgroundColor: "rgba(255,255,255,0.9)", padding: [3, 4],
      textStyle: { fontSize: 6, color: "#333", fontFamily: FONT },
      data: MODEL_NAMES
    }
  ]
});
</script>
</body>
</html>
